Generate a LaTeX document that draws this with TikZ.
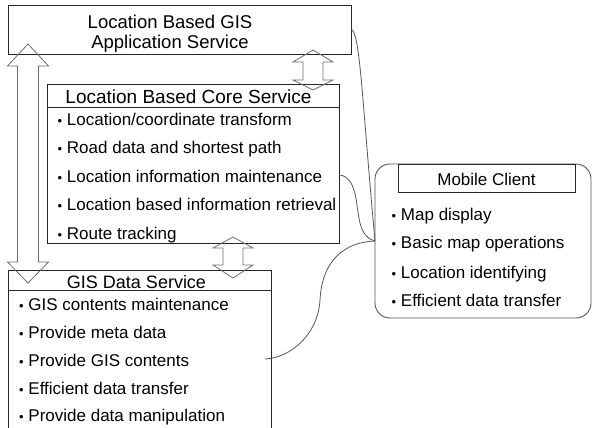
\documentclass[tikz,border=0pt]{standalone}
\usepackage{fontspec}
\setmainfont{Liberation Sans}
\usetikzlibrary{calc}
\definecolor{boxline}{HTML}{262626}
\definecolor{arrowline}{HTML}{6E6E6E}
\definecolor{linkline}{HTML}{555555}

% small list bullet
\newcommand\lbul{{\fontsize{13}{13}\selectfont•}}

% hollow block arrow with a head at both ends, between two named points
% #1 top point, #2 bottom point, #3 head half width, #4 shaft half width,
% #5 top head length, #6 bottom head length (all in pt)
\newcommand\dblarrow[6]{%
  \draw[barrow] let \p1=#1, \p2=#2 in
    (\x1,\y1) -- (\x1+#3pt,\y1-#5pt) -- (\x1+#4pt,\y1-#5pt)
    -- (\x1+#4pt,\y2+#6pt) -- (\x1+#3pt,\y2+#6pt) -- (\x2,\y2)
    -- (\x1-#3pt,\y2+#6pt) -- (\x1-#4pt,\y2+#6pt)
    -- (\x1-#4pt,\y1-#5pt) -- (\x1-#3pt,\y1-#5pt) -- cycle;}

\tikzset{
  box/.style={draw=boxline, line width=0.9pt, inner sep=0pt, outer sep=0pt},
  mbox/.style={draw=linkline, line width=0.9pt, rounded corners=15pt, inner sep=0pt, outer sep=0pt},
  barrow/.style={draw=arrowline, line width=0.8pt},
  link/.style={draw=linkline, line width=0.8pt},
  title/.style={anchor=base, inner sep=0pt, font=\fontsize{18.5}{20}\selectfont},
  hdr/.style={anchor=base, inner sep=0pt, font=\fontsize{18}{20}\selectfont},
  item/.style={anchor=base west, inner sep=0pt, font=\fontsize{17}{20}\selectfont},
}

\begin{document}
\begin{tikzpicture}[x=1pt, y=-1pt]
\useasboundingbox (0,0) rectangle (592,428);
\clip (0,0) rectangle (592,428);

% application service
\node[box, minimum width=343pt, minimum height=49pt] (app) at (179.5,29.5) {};
\node[title] (appt1) at (170,28.3) {Location Based GIS};
\node[title] (appt2) at (170,48.3) {Application Service};

% core service
\node[box, minimum width=292pt, minimum height=159pt] (core) at (193,163.5) {};
\node[box, minimum width=292pt, minimum height=23pt] (corehd) at (193,95.5) {};
\node[hdr, font=\fontsize{19}{20}\selectfont] (coret) at (188.5,103.3) {Location Based Core Service};
\node[item] (c1) at (57.5,125) {\lbul{} Location/coordinate transform};
\node[item] (c2) at (57.5,153.5) {\lbul{} Road data and shortest path};
\node[item] (c3) at (57.5,182) {\lbul{} Location information maintenance};
\node[item] (c4) at (57.5,210.5) {\lbul{} Location based information retrieval};
\node[item] (c5) at (57.5,239) {\lbul{} Route tracking};

% GIS data service (runs past the lower edge)
\node[box, minimum width=263pt, minimum height=180pt] (gis) at (139.5,360) {};
\node[box, minimum width=263pt, minimum height=20pt] (gishd) at (139.5,280) {};
\node[hdr] (gist) at (136.5,288) {GIS Data Service};
\node[item] (g1) at (19,310) {\lbul{} GIS contents maintenance};
\node[item] (g2) at (19,338) {\lbul{} Provide meta data};
\node[item] (g3) at (19,366) {\lbul{} Provide GIS contents};
\node[item] (g4) at (19,394) {\lbul{} Efficient data transfer};
\node[item] (g5) at (19,421.5) {\lbul{} Provide data manipulation};

% mobile client
\node[mbox, minimum width=216pt, minimum height=154pt] (mob) at (483,241) {};
\node[box, minimum width=177pt, minimum height=28pt] (mobhd) at (486.5,178) {};
\node[hdr, font=\fontsize{17}{20}\selectfont] (mobt) at (486.5,185) {Mobile Client};
\node[item] (m1) at (391.5,220) {\lbul{} Map display};
\node[item] (m2) at (391.5,248.5) {\lbul{} Basic map operations};
\node[item] (m3) at (391.5,278) {\lbul{} Location identifying};
\node[item] (m4) at (391.5,306.5) {\lbul{} Efficient data transfer};

% block arrows between the service layers
\coordinate (a1t) at (28,44);   \coordinate (a1b) at (28,283);
\coordinate (a2t) at (313,50);  \coordinate (a2b) at (313,90);
\coordinate (a3t) at (233,237); \coordinate (a3b) at (233,278);
\dblarrow{(a1t)}{(a1b)}{20.5}{10.5}{22}{21}
\dblarrow{(a2t)}{(a2b)}{20}{10}{12}{10}
\dblarrow{(a3t)}{(a3b)}{20}{10}{11}{13}

% links from the services to the mobile client
\coordinate (gisport) at (265,359);
\coordinate (coreport) at (core.east |- 0,175);
\draw[link] (app.east) .. controls (360,30) and (362,100) .. (mob.west);
\draw[link] (coreport) .. controls (355,176) and (356,200) .. (358,212)
                       .. controls (360,228) and (364,238) .. (mob.west);
\draw[link] (gisport) .. controls (290,358) and (318,335) .. (320,300)
                      .. controls (322,260) and (345,242) .. (mob.west);
\end{tikzpicture}
\end{document}
